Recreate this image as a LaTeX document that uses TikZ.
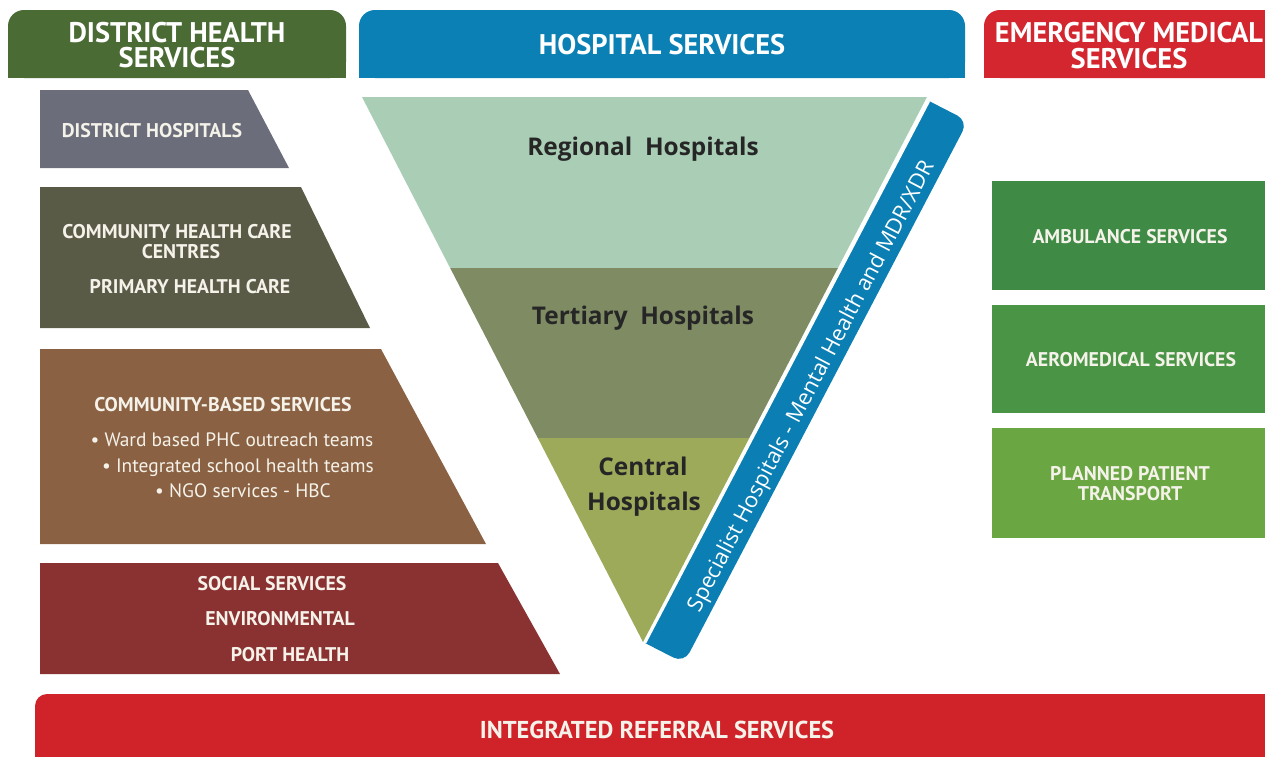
\documentclass[tikz,border=0pt]{standalone}
\usepackage{fontspec}
\usetikzlibrary{calc}
\setmainfont{PT Sans}
\newfontfamily\osans{Open Sans}
\definecolor{hgreen}{HTML}{4A6B34}
\definecolor{hblue}{HTML}{0A80B4}
\definecolor{hred}{HTML}{D3262F}
\definecolor{cgray}{HTML}{6B6E7A}
\definecolor{colive}{HTML}{5A5B47}
\definecolor{cbrown}{HTML}{8A6243}
\definecolor{cdred}{HTML}{8A3131}
\definecolor{creg}{HTML}{A9CEB5}
\definecolor{cter}{HTML}{7E8B63}
\definecolor{ccen}{HTML}{9CAA5A}
\definecolor{cband}{HTML}{0B7FB3}
\definecolor{camb}{HTML}{3F8B46}
\definecolor{caero}{HTML}{4A9445}
\definecolor{cplan}{HTML}{6AA743}
\definecolor{cbar}{HTML}{D02229}
\definecolor{offw}{HTML}{F5F2EA}
\definecolor{dtext}{HTML}{262626}
\tikzset{
 txtbase/.style={inner sep=0pt, text depth=0pt, anchor=center},
 hdr/.style={txtbase, text=white, font=\bfseries\fontsize{14.2}{16}\selectfont, text height=9.9pt},
 capt/.style={txtbase, text=offw, font=\bfseries\fontsize{9.9}{11}\selectfont, text height=6.9pt},
 bul/.style={txtbase, text=offw, font=\fontsize{9.7}{11}\selectfont, text height=6.8pt},
 hosp/.style={txtbase, text=dtext, font=\osans\bfseries\fontsize{12.2}{14}\selectfont, text height=8.7pt},
 bandtxt/.style={txtbase, text=white, font=\osans\fontsize{10.9}{12}\selectfont, text height=7.8pt, rotate=62.3},
 bartxt/.style={txtbase, text=offw, font=\bfseries\fontsize{12.2}{14}\selectfont, text height=8.5pt},
}
\begin{document}
\begin{tikzpicture}[x=0.5pt,y=-0.5pt]
\useasboundingbox (0,0) rectangle (1265,756);
\clip (0,0) rectangle (1265,756);
\fill[white] (0,0) rectangle (1265,756);
% headers
\fill[hgreen, rounded corners=8pt] (8,10) rectangle (346,78);
\fill[hgreen] (8,50) rectangle (346,78);
\node[hdr] (dhs1) at (177,33) {DISTRICT HEALTH};
\node[hdr] (dhs2) at (177,58) {SERVICES};
\fill[hblue, rounded corners=8pt] (359,10) rectangle (965,78);
\fill[hblue] (359,50) rectangle (965,78);
\node[hdr] (hs) at (662,45) {HOSPITAL SERVICES};
\fill[hred, rounded corners=8pt] (984,10) rectangle (1300,78);
\fill[hred] (984,50) rectangle (1300,78);
\node[hdr] (ems1) at (1129,33) {EMERGENCY MEDICAL};
\node[hdr] (ems2) at (1129,59) {SERVICES};
% left boxes
\fill[cgray] (40,90) -- (248,90) -- (289,168) -- (40,168) -- cycle;
\node[capt] (dh) at (152,131) {DISTRICT HOSPITALS};
\fill[colive] (40,187) -- (301,187) -- (370,328) -- (40,328) -- cycle;
\node[capt] (chc) at (177,232) {COMMUNITY HEALTH CARE};
\node[capt] (cen) at (181,252) {CENTRES};
\node[capt] (phc) at (190,287) {PRIMARY HEALTH CARE};
\fill[cbrown] (40,349) -- (381,349) -- (486,544) -- (40,544) -- cycle;
\node[capt] (cbs) at (223,405) {COMMUNITY-BASED SERVICES};
\node[bul] (b1) at (232,440) {• Ward based PHC outreach teams};
\node[bul] (b2) at (238,466) {• Integrated school health teams};
\node[bul] (b3) at (243,491) {• NGO services - HBC};
\fill[cdred] (40,563) -- (498,563) -- (560,674) -- (40,674) -- cycle;
\node[capt] (ss) at (272,584) {SOCIAL SERVICES};
\node[capt] (env) at (280,619) {ENVIRONMENTAL};
\node[capt] (ph) at (290,655) {PORT HEALTH};
% triangle
\coordinate (TL) at (362,97);
\coordinate (TR) at (927,97);
\coordinate (AP) at (643,642);
\coordinate (L1) at ($(TL)!0.3138!(AP)$);
\coordinate (R1) at ($(TR)!0.3138!(AP)$);
\coordinate (L2) at ($(TL)!0.6257!(AP)$);
\coordinate (R2) at ($(TR)!0.6257!(AP)$);
\fill[creg] (TL) -- (TR) -- (R1) -- (L1) -- cycle;
\fill[cter] (L1) -- (R1) -- (R2) -- (L2) -- cycle;
\fill[ccen] (L2) -- (R2) -- (AP) -- cycle;
\node[hosp] (reg) at (643,147) {Regional\ \ Hospitals};
\node[hosp] (ter) at (643,316) {Tertiary\ \ Hospitals};
\node[hosp] (cen1) at (643,467) {Central};
\node[hosp] (cen2) at (644,502) {Hospitals};
% band
\fill[cband] (929,101) [rounded corners=6pt] -- (968,121) -- (684,663) [sharp corners] -- (645,643) -- cycle;
\draw[white, line width=1.2pt] (645,643) -- (929,101);
\node[bandtxt] (spec) at (810,386) {Specialist Hospitals - Mental Health and MDR/XDR};
% right boxes
\fill[camb] (992,181) rectangle (1265,290);
\node[capt] (amb) at (1130,237) {AMBULANCE SERVICES};
\fill[caero] (992,305) rectangle (1265,413);
\node[capt] (aero) at (1131,360) {AEROMEDICAL SERVICES};
\fill[cplan] (992,428) rectangle (1265,538);
\node[capt] (ppt1) at (1130,474) {PLANNED PATIENT};
\node[capt] (ppt2) at (1130,494) {TRANSPORT};
% bottom bar
\fill[cbar, rounded corners=6pt] (35,694) rectangle (1300,800);
\node[bartxt] (irs) at (657,730) {INTEGRATED REFERRAL SERVICES};
\end{tikzpicture}
\end{document}
